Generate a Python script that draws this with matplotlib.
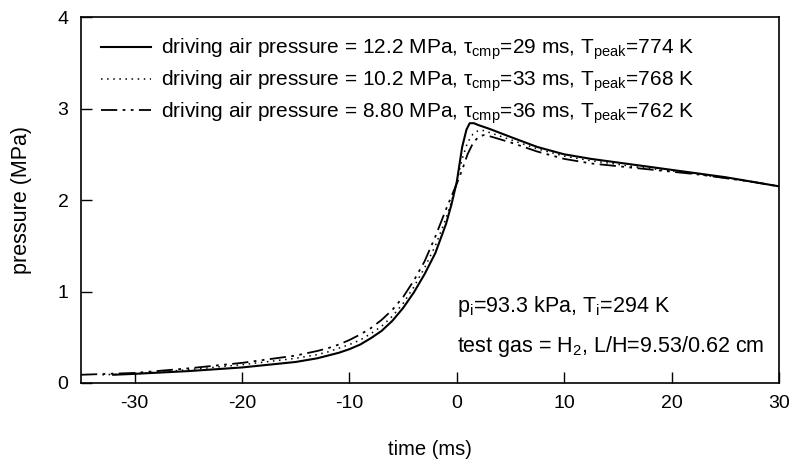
import matplotlib.pyplot as plt

plt.rcParams['font.family'] = ['Liberation Sans', 'DejaVu Sans']
plt.rcParams['mathtext.fontset'] = 'custom'
plt.rcParams['mathtext.rm'] = 'Liberation Sans'
plt.rcParams['mathtext.it'] = 'Liberation Sans:italic'
plt.rcParams['axes.unicode_minus'] = False

# time (ms) and pressure (MPa)
t_122 = [-32, -30, -25, -20, -15, -13, -12, -11, -10, -9, -8, -7, -6, -5, -4, -3, -2, -1, -0.5, 0,
         0.5, 0.9, 1.2, 1.6, 2, 3, 5, 7.5, 10, 12.5, 15, 17.5, 20, 22.5, 25, 27.5, 30]
p_122 = [0.09, 0.10, 0.13, 0.17, 0.23, 0.27, 0.30, 0.33, 0.37, 0.42, 0.49, 0.57, 0.68, 0.82,
         0.99, 1.19, 1.42, 1.74, 1.95, 2.20, 2.58, 2.77, 2.84, 2.84, 2.82, 2.78, 2.69, 2.58,
         2.50, 2.45, 2.41, 2.37, 2.33, 2.29, 2.25, 2.20, 2.15]

t_102 = [-33, -30, -25, -20, -15, -13, -12, -11, -10, -9, -8, -7, -6, -5, -4, -3, -2, -1, -0.5, 0,
         0.5, 1, 1.5, 2, 2.5, 3, 5, 7.5, 10, 12.5, 15, 17.5, 20, 22.5, 25, 27.5, 30]
p_102 = [0.09, 0.10, 0.145, 0.20, 0.27, 0.31, 0.34, 0.38, 0.42, 0.47, 0.54, 0.62, 0.73, 0.87,
         1.05, 1.26, 1.50, 1.80, 1.98, 2.20, 2.45, 2.63, 2.72, 2.76, 2.76, 2.74, 2.66, 2.56,
         2.48, 2.43, 2.39, 2.35, 2.32, 2.28, 2.24, 2.20, 2.15]

t_88 = [-35, -30, -25, -20, -15, -13, -12, -11, -10, -9, -8, -7, -6, -5, -4, -3, -2, -1, -0.5, 0,
        0.5, 1, 1.5, 2, 2.5, 3, 5, 7.5, 10, 12.5, 15, 17.5, 20, 22.5, 25, 27.5, 30]
p_88 = [0.09, 0.11, 0.16, 0.22, 0.30, 0.35, 0.38, 0.42, 0.47, 0.53, 0.60, 0.69, 0.80, 0.94,
        1.12, 1.33, 1.60, 1.90, 2.04, 2.18, 2.33, 2.50, 2.62, 2.69, 2.71, 2.70, 2.63, 2.53,
        2.45, 2.40, 2.37, 2.34, 2.31, 2.28, 2.24, 2.20, 2.15]

labels = [
    r"driving air pressure = 12.2 MPa, τ$_{\mathrm{cmp}}$=29 ms, T$_{\mathrm{peak}}$=774 K",
    r"driving air pressure = 10.2 MPa, τ$_{\mathrm{cmp}}$=33 ms, T$_{\mathrm{peak}}$=768 K",
    r"driving air pressure = 8.80 MPa, τ$_{\mathrm{cmp}}$=36 ms, T$_{\mathrm{peak}}$=762 K",
]

fig = plt.figure(figsize=(7.9, 4.62), dpi=100)
ax = fig.add_axes([0.1025, 0.171, 0.8835, 0.792])

ax.plot(t_122, p_122, color='black', lw=1.5, label=labels[0])
ax.plot(t_102, p_102, color='black', lw=1.1, linestyle=(0, (1, 3)), label=labels[1])
ax.plot(t_88, p_88, color='black', lw=1.3, linestyle=(0, (9, 3, 1.5, 3, 1.5, 3)), label=labels[2])

ax.set_xlim(-35, 30)
ax.set_ylim(0, 4)
ax.set_xticks([-30, -20, -10, 0, 10, 20, 30])
ax.set_yticks([0, 1, 2, 3, 4])
ax.tick_params(direction='in', length=8, width=1, labelsize=14, pad=9)
for s in ax.spines.values():
    s.set_linewidth(1.2)

ax.set_xlabel("time (ms)", fontsize=14.5, labelpad=20)
ax.set_ylabel("pressure (MPa)", fontsize=15.5, labelpad=18)

ax.legend(loc='upper left', frameon=False, fontsize=15, handlelength=2.4,
          handletextpad=0.5, labelspacing=0.3, borderaxespad=0.55)

ax.text(0.0, 0.78, r"p$_{\mathrm{i}}$=93.3 kPa, T$_{\mathrm{i}}$=294 K", fontsize=15.5)
ax.text(0.0, 0.34, r"test gas = H$_{\mathrm{2}}$, L/H=9.53/0.62 cm", fontsize=15.5)

fig.savefig("out.png", dpi=100)
